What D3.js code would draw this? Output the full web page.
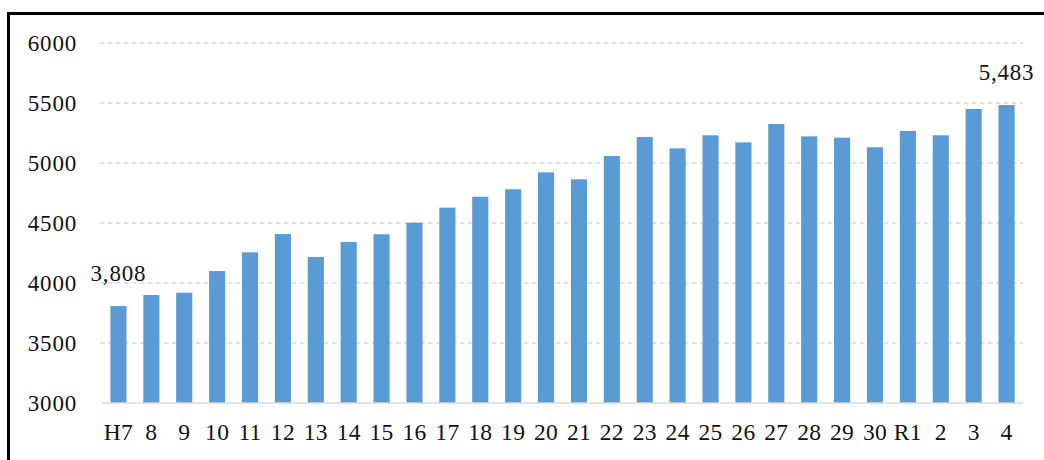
<!DOCTYPE html>
<html>
<head>
<meta charset="utf-8">
<script src="https://cdn.jsdelivr.net/npm/d3@7"></script>
<style>
  html, body { margin: 0; padding: 0; background: #fff; }
  svg { display: block; }
  text { font-family: "Liberation Serif", "Times New Roman", serif; fill: #111; }
</style>
</head>
<body>
<svg id="chart" width="1044" height="460"></svg>
<script>
const categories = ["H7","8","9","10","11","12","13","14","15","16","17","18","19","20","21","22","23","24","25","26","27","28","29","30","R1","2","3","4"];
const values = [3808,3900,3919,4100,4256,4408,4217,4342,4406,4503,4628,4719,4781,4922,4864,5058,5217,5122,5231,5172,5325,5222,5211,5131,5267,5231,5450,5483];
const yTicks = [3000,3500,4000,4500,5000,5500,6000];
const labelled = ["H7","4"];

const svg = d3.select("#chart");

// frame
svg.append("rect")
  .attr("x", 8.5).attr("y", 13.5)
  .attr("width", 1100).attr("height", 500)
  .attr("fill", "none").attr("stroke", "#000").attr("stroke-width", 3);

const x = d3.scaleBand().domain(categories).range([102, 1023]).paddingInner(0.51).paddingOuter(0.255);
const y = d3.scaleLinear().domain([3000, 6000]).range([403, 43]);

// gridlines
svg.append("g").selectAll("line")
  .data(yTicks.filter(t => t > 3000))
  .join("line")
  .attr("x1", 100).attr("x2", 1023)
  .attr("y1", d => y(d)).attr("y2", d => y(d))
  .attr("stroke", "#d9d9d9").attr("stroke-width", 1.3)
  .attr("stroke-dasharray", "4.5,3.5");

// bars
svg.append("g").selectAll("rect")
  .data(values)
  .join("rect")
  .attr("x", (d, i) => x(categories[i]))
  .attr("width", x.bandwidth())
  .attr("y", d => y(d))
  .attr("height", d => y(3000) - y(d))
  .attr("fill", "#5b9bd5");

// x axis baseline
svg.append("line")
  .attr("x1", 102).attr("x2", 1023)
  .attr("y1", y(3000)).attr("y2", y(3000))
  .attr("stroke", "#d9d9d9").attr("stroke-width", 1.5);

// y axis labels
const yAxis = d3.axisLeft(y).tickValues(yTicks).tickFormat(d3.format("d")).tickSize(0).tickPadding(0);
const gy = svg.append("g").attr("transform", "translate(77,0)").call(yAxis);
gy.select(".domain").remove();
gy.selectAll("text")
  .style("font-family", "'Liberation Serif', serif")
  .style("font-size", "23px")
  .style("letter-spacing", "0.8px")
  .attr("fill", "#111");

// x axis labels
const xAxis = d3.axisBottom(x).tickSize(0).tickPadding(0);
const gx = svg.append("g").attr("transform", "translate(0,423)").call(xAxis);
gx.select(".domain").remove();
gx.selectAll("text")
  .style("font-family", "'Liberation Serif', serif")
  .style("font-size", "23.5px")
  .style("letter-spacing", "0.3px")
  .attr("fill", "#111");

// data labels
svg.append("g").selectAll("text")
  .data(categories.map((c, i) => ({c, v: values[i]})).filter(d => labelled.includes(d.c)))
  .join("text")
  .attr("x", d => x(d.c) + x.bandwidth() / 2)
  .attr("y", d => y(d.v) - 25)
  .attr("text-anchor", "middle")
  .style("font-size", "23px")
  .style("letter-spacing", "0.8px")
  .text(d => d3.format(",")(d.v));
</script>
</body>
</html>
